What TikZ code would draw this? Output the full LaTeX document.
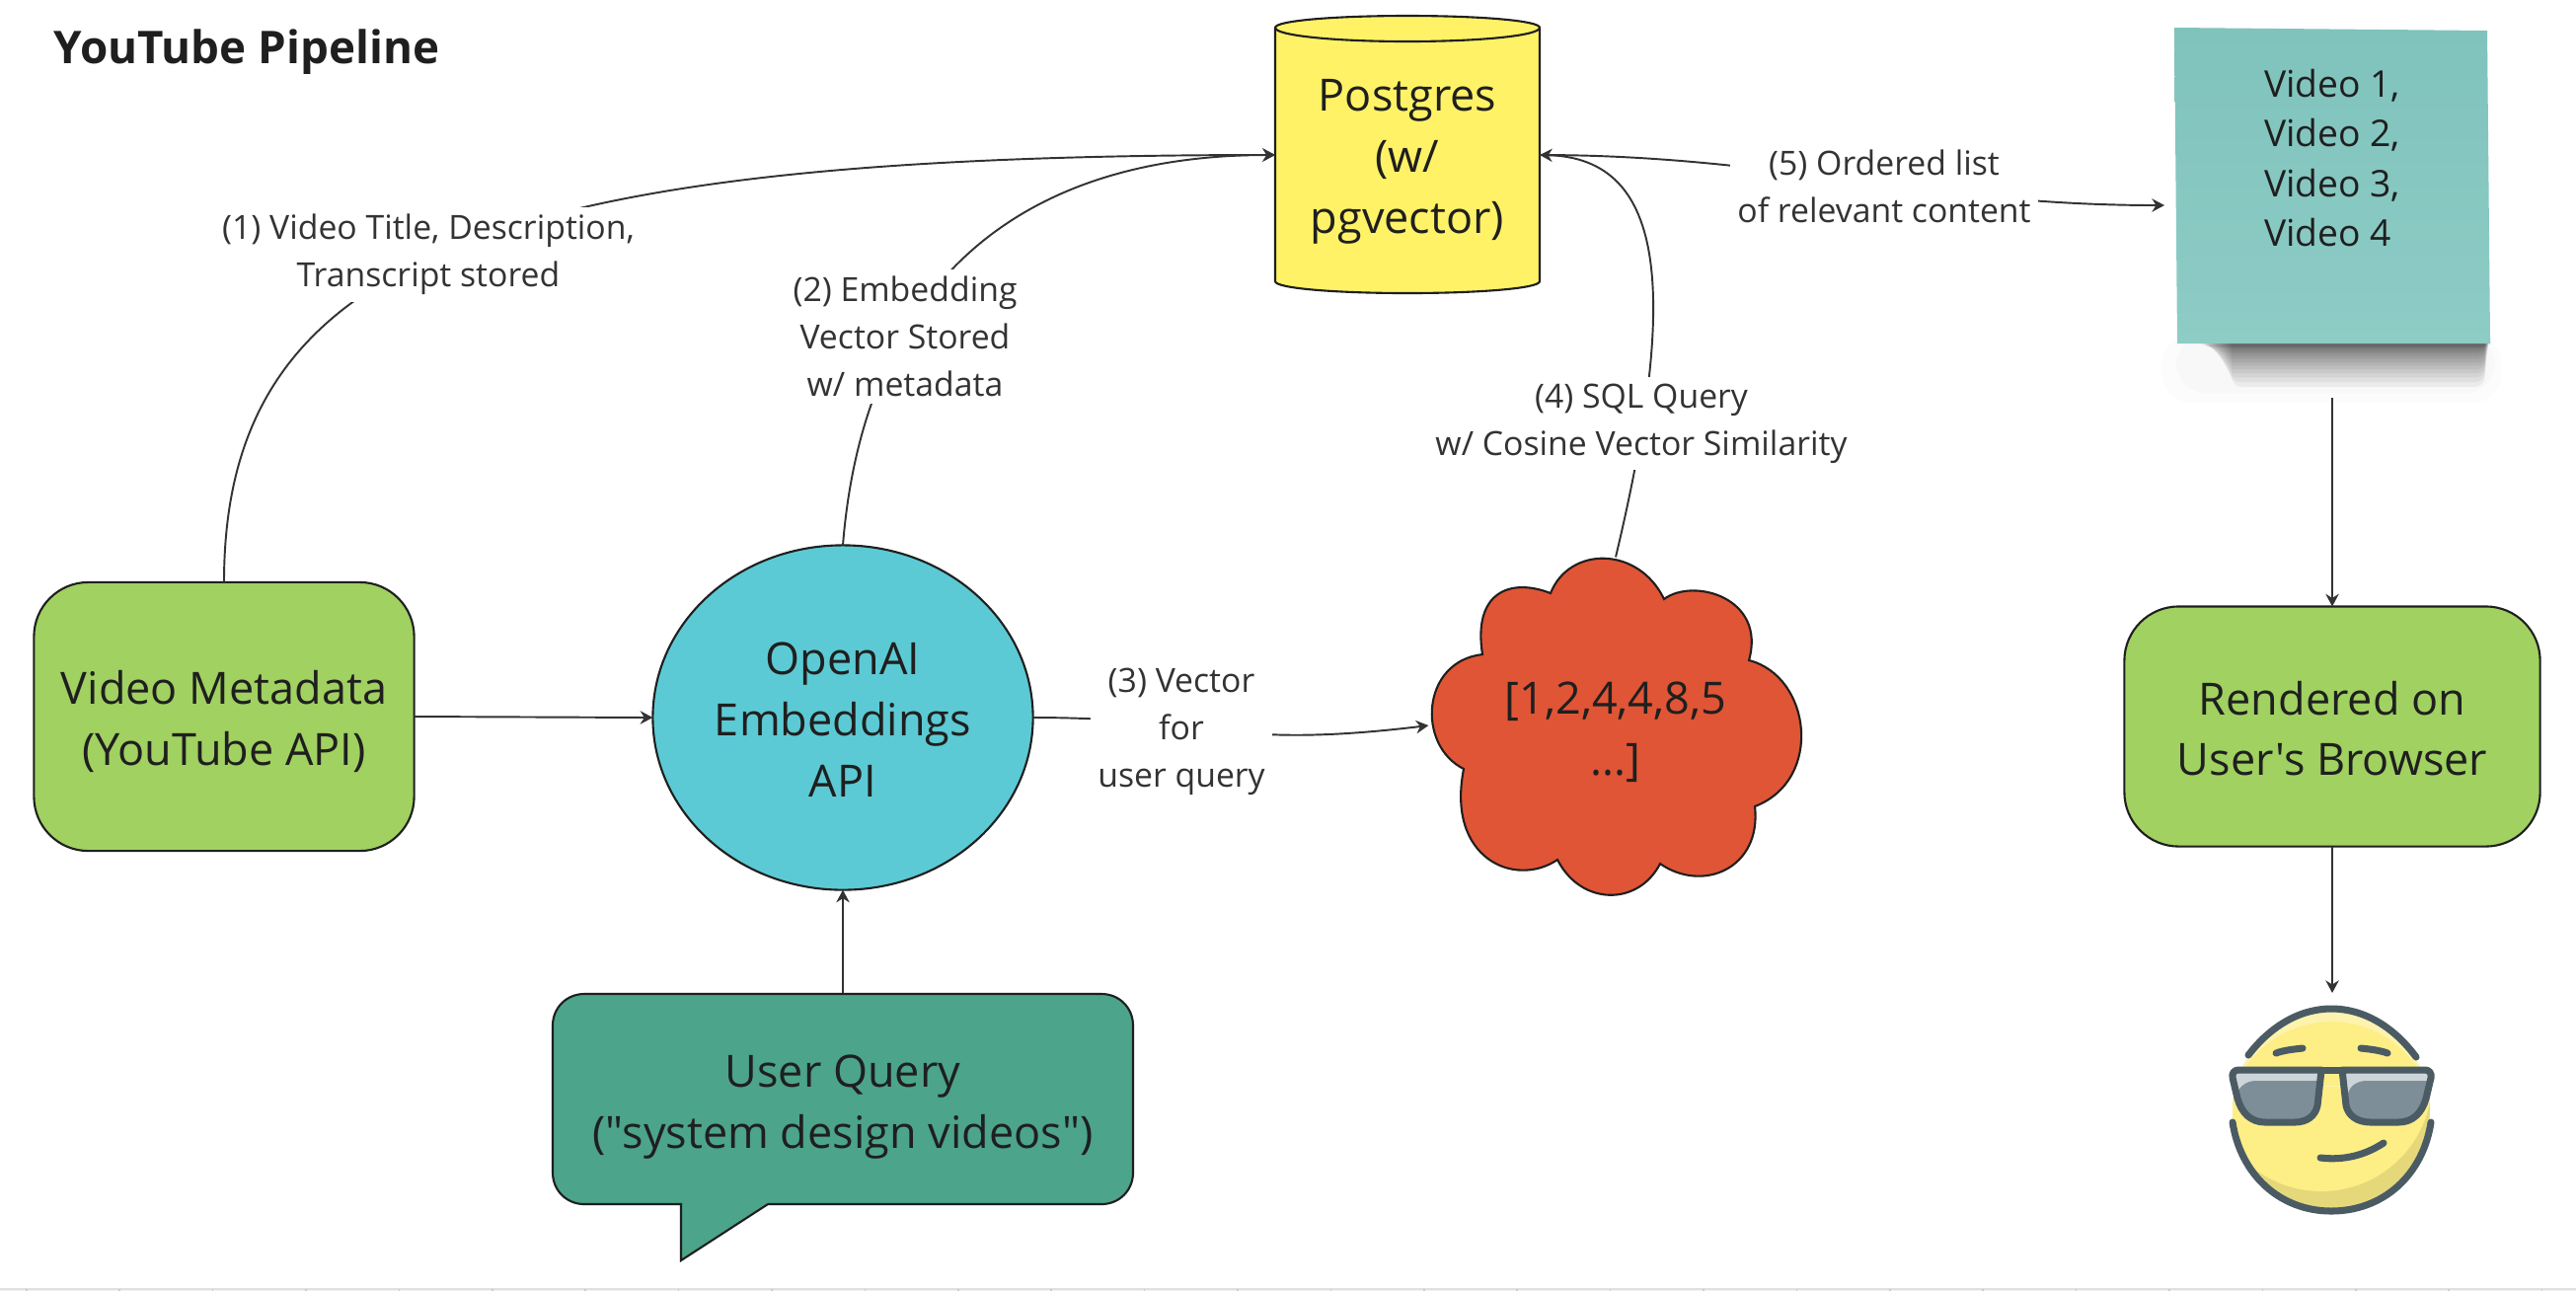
\documentclass[tikz,border=0pt]{standalone}
\usepackage{fontspec}
\setmainfont{Open Sans}[Ligatures=TeXOff]
\usetikzlibrary{arrows.meta,shapes.geometric,positioning}
\definecolor{inkdark}{RGB}{31,31,31}
\definecolor{linkgray}{RGB}{51,51,51}
\definecolor{leafgreen}{RGB}{160,209,97}
\definecolor{apicyan}{RGB}{92,202,212}
\definecolor{querygreen}{RGB}{76,164,138}
\definecolor{cloudred}{RGB}{224,85,53}
\definecolor{dbyellow}{RGB}{255,242,102}
\definecolor{notetop}{RGB}{127,195,188}
\definecolor{notelow}{RGB}{142,204,198}
\definecolor{faceyellow}{RGB}{253,238,134}
\definecolor{facelight}{RGB}{253,243,174}
\definecolor{facedark}{RGB}{229,216,123}
\definecolor{rimslate}{RGB}{75,91,100}
\definecolor{lensdark}{RGB}{126,142,153}
\definecolor{lenslight}{RGB}{205,213,216}
\newcommand{\topgap}[1]{\rule{0pt}{#1pt}}
\tikzset{
  shapetext/.style={font=\fontsize{12.8}{17.6}\selectfont,text=inkdark,align=center,inner sep=0pt,outer sep=0pt},
  bigbox/.style={shapetext,draw=inkdark,line width=.6pt,rounded corners=.55cm},
  steplabel/.style={font=\fontsize{9.6}{13.7}\selectfont,text=linkgray,align=center,fill=white,inner sep=2pt},
  conn/.style={-{Stealth[length=3.6pt,width=3.8pt]},linkgray,line width=.55pt},
  rim/.style={rimslate,line width=2pt,line cap=round,line join=round},
}
\begin{document}
\begin{tikzpicture}[x=0.01cm,y=-0.01cm]
  \useasboundingbox (0,0) rectangle (2610,1308);
  \fill[white] (0,0) rectangle (2610,1308);
  \fill[black!5] (0,1306) rectangle (2610,1308);
  \fill[black!12] (0,1304.5) rectangle (2610,1306.5);
  \foreach \k in {0,...,27} {
    \fill[black!20] (26+\k*94.4,1306) rectangle +(1.5,2);
  }
  \node[font=\fontsize{13}{16}\selectfont\bfseries,text=inkdark,inner sep=0pt] (title) at (250,53) {YouTube Pipeline};

  % boxes
  \node[bigbox,fill=leafgreen,minimum width=3.85cm,minimum height=2.72cm] (metadata) at (227,726)
    {\topgap{12.7}Video Metadata\\(YouTube API)};
  \node[shapetext,draw=inkdark,line width=.6pt,fill=apicyan,ellipse,minimum width=3.85cm,minimum height=3.49cm] (openai) at (854,727)
    {\topgap{10.5}OpenAI\\Embeddings\\API};
  \node[bigbox,fill=leafgreen,minimum width=4.21cm,minimum height=2.43cm] (browser) at (2363,736)
    {\topgap{10.9}Rendered on\\User's Browser};

  % database
  \draw[draw=inkdark,line width=.6pt,fill=dbyellow]
    (1292,28) -- (1292,285) .. controls (1292,292) and (1352,297) .. (1426,297)
    .. controls (1500,297) and (1560,292) .. (1560,285) -- (1560,28)
    .. controls (1560,21) and (1500,16) .. (1426,16)
    .. controls (1352,16) and (1292,21) .. (1292,28) -- cycle;
  \draw[draw=inkdark,line width=.6pt]
    (1292,28) .. controls (1292,36) and (1352,42) .. (1426,42) .. controls (1500,42) and (1560,36) .. (1560,28);
  \node[shapetext,minimum width=2.68cm,minimum height=2.81cm] (postgres) at (1426,157)
    {\topgap{13.1}Postgres\\(w/\\pgvector)};

  % speech bubble
  \draw[draw=inkdark,line width=.6pt,fill=querygreen]
    (690,1277) -- (690,1220) -- (592,1220) .. controls (574,1220) and (560,1206) .. (560,1188)
    -- (560,1039) .. controls (560,1021) and (574,1007) .. (592,1007)
    -- (1116,1007) .. controls (1134,1007) and (1148,1021) .. (1148,1039)
    -- (1148,1188) .. controls (1148,1206) and (1134,1220) .. (1116,1220)
    -- (778,1220) -- cycle;
  \node[shapetext,minimum width=5.88cm,minimum height=2.13cm] (query) at (854,1113)
    {\topgap{13.9}User Query\\("system design videos")};

  % cloud
  \draw[draw=inkdark,line width=.6pt,fill=cloudred]
    (1502,663) .. controls (1492,600) and (1530,585) .. (1571,601)
    .. controls (1590,553) and (1660,553) .. (1686,607)
    .. controls (1715,585) and (1790,605) .. (1772,669)
    .. controls (1835,685) and (1848,790) .. (1778,817)
    .. controls (1785,880) and (1725,905) .. (1682,875)
    .. controls (1660,918) and (1602,918) .. (1578,871)
    .. controls (1535,900) and (1465,870) .. (1483,779)
    .. controls (1435,755) and (1440,670) .. cycle;
  \node[shapetext,minimum width=3.79cm,minimum height=3.41cm] (cloud) at (1637,735)
    {\topgap{13.3}[1,2,4,4,8,5\\...]};

  % sticky note with its shadow
  \fill[black,opacity=.012,rounded corners=.3cm] (2190,340) rectangle (2535,408);
  \fill[black,opacity=.015,rounded corners=.3cm] (2205,340) rectangle (2528,398);
  \foreach \k in {1,...,16} {
    \fill[black,opacity=.05,rounded corners=.1cm] (2226+\k*2.2,340) rectangle (2524-\k*.4,351+\k*\k*.16);
  }
  \shade[top color=notetop,bottom color=notelow] (2203,28) -- (2520,31) -- (2523,348) -- (2206,348) -- cycle;
  \node[font=\fontsize{10.6}{14.4}\selectfont,text=inkdark,align=left,inner sep=0pt] (sticky) at (2363,160)
    {Video 1,\\Video 2,\\Video 3,\\Video 4};
  \coordinate (stickyin) at (2193,208);
  \coordinate (stickyout) at (2363,403);
  \coordinate (smileytop) at (2363,1006);

  % smiley
  \begin{scope}
    \clip (2362,1125) circle [radius=100];
    \fill[facedark] (2250,1015) rectangle (2475,1235);
    \fill[faceyellow] (2352,1095) circle [radius=112];
    \clip (2250,1015) rectangle (2475,1100);
    \fill[facelight,even odd rule] (2250,1015) rectangle (2475,1100) (2362,1140) circle [radius=105];
  \end{scope}
  \draw[rim] (2278,1069) .. controls (2300,1040) and (2330,1022) .. (2362,1022) .. controls (2395,1022) and (2425,1040) .. (2448,1071);
  \draw[rim] (2262,1137) .. controls (2270,1190) and (2310,1227) .. (2362,1227) .. controls (2415,1227) and (2455,1190) .. (2463,1137);
  \draw[rim] (2306,1067) .. controls (2314,1064) and (2324,1063) .. (2333,1062);
  \draw[rim] (2392,1062) .. controls (2401,1063) and (2411,1064) .. (2419,1067);
  \draw[rim] (2351,1173) .. controls (2375,1176) and (2397,1170) .. (2415,1158);
  \fill[lenslight] (2262,1084) -- (2352,1084) -- (2348,1120) .. controls (2346,1130) and (2338,1137) .. (2325,1137) -- (2295,1137) .. controls (2280,1137) and (2271,1127) .. (2268,1113) -- cycle;
  \fill[lensdark] (2266,1108) .. controls (2270,1100) and (2276,1095) .. (2286,1095) -- (2350,1095) -- (2348,1120) .. controls (2346,1130) and (2338,1137) .. (2325,1137) -- (2295,1137) .. controls (2280,1137) and (2271,1127) .. (2268,1113) -- cycle;
  \fill[lenslight] (2373,1084) -- (2463,1084) -- (2458,1113) .. controls (2454,1127) and (2445,1137) .. (2430,1137) -- (2402,1137) .. controls (2388,1137) and (2379,1130) .. (2377,1120) -- cycle;
  \fill[lensdark] (2379,1108) .. controls (2381,1100) and (2388,1095) .. (2398,1095) -- (2460,1095) -- (2458,1113) .. controls (2454,1127) and (2445,1137) .. (2430,1137) -- (2402,1137) .. controls (2388,1137) and (2379,1130) .. (2377,1120) -- cycle;
  \draw[rim] (2268,1084) -- (2352,1084) -- (2348,1120) .. controls (2346,1130) and (2338,1137) .. (2325,1137) -- (2295,1137) .. controls (2280,1137) and (2271,1127) .. (2267,1113) -- (2262,1092) .. controls (2261,1087) and (2264,1084) .. cycle;
  \draw[rim] (2352,1084) -- (2373,1084);
  \draw[rim] (2373,1084) -- (2457,1084) .. controls (2461,1084) and (2464,1087) .. (2463,1092) -- (2458,1113) .. controls (2454,1127) and (2445,1137) .. (2430,1137) -- (2402,1137) .. controls (2388,1137) and (2379,1130) .. (2377,1120) -- cycle;

  % connectors
  \draw[conn] (metadata.east) -- (openai.west);
  \draw[conn] (query.north) -- (openai.south);
  \draw[conn] (metadata.north) .. controls (227,260) and (500,157) .. (postgres.west);
  \draw[conn] (openai.north) .. controls (875,290) and (1030,157) .. (postgres.west);
  \draw[conn] (openai.east) .. controls (1230,727) and (1240,760) .. (cloud.west);
  \draw[conn] (cloud.north) .. controls (1700,300) and (1690,160) .. (postgres.east);
  \draw[conn] (postgres.east) .. controls (1800,157) and (1950,208) .. (stickyin);
  \draw[conn] (stickyout) -- (browser.north);
  \draw[conn] (browser.south) -- (smileytop);

  % step labels
  \node[steplabel] (stepone) at (434,258) {(1) Video Title, Description,\\Transcript stored};
  \node[steplabel] (steptwo) at (917,341) {(2) Embedding\\Vector Stored\\w/ metadata};
  \node[steplabel] (stepthree) at (1197,741) {(3) Vector\\for\\user query};
  \node[steplabel] (stepfour) at (1663,429) {(4) SQL Query\\w/ Cosine Vector Similarity};
  \node[steplabel] (stepfive) at (1909,189) {(5) Ordered list\\of relevant content};
\end{tikzpicture}
\end{document}
